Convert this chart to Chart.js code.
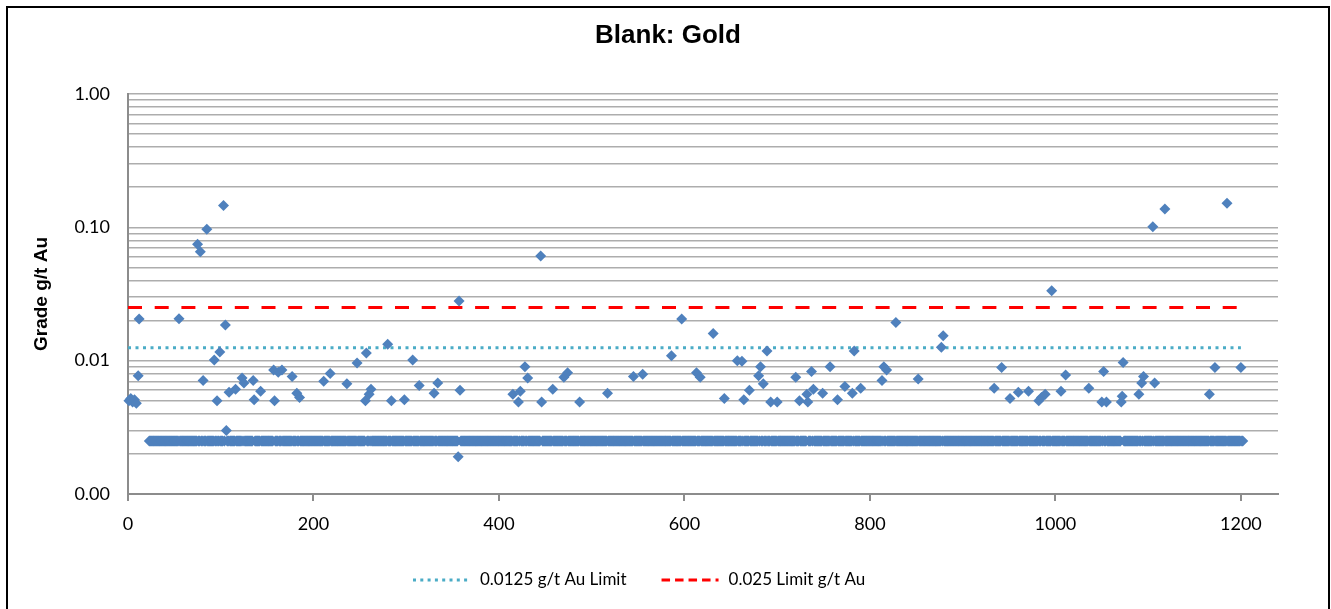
<!DOCTYPE html>
<html>
<head>
<meta charset="utf-8">
<title>Blank: Gold</title>
<script src="https://cdn.jsdelivr.net/npm/chart.js@4.4.1/dist/chart.umd.min.js"></script>
<style>
    html, body { margin: 0; padding: 0; background: #fff; }
    #wrap { position: relative; width: 1331px; height: 609px; overflow: hidden; }
    #blank-chart { position: absolute; left: 0; top: 0; }
    #frame { position: absolute; left: 6px; top: 6px; width: 1320px; height: 640px; border: 2px solid #000; pointer-events: none; }
</style>
</head>
<body>
<div id="wrap">
    <canvas id="blank-chart" width="1331" height="609"></canvas>
    <div id="frame"></div>
</div>
<script>
var chartTitle = 'Blank: Gold';
var yTitle = 'Grade g/t Au';

// assays above the reporting floor (sample number, grade g/t Au)
var sampleNo = [1, 3, 5, 7, 9, 11, 12, 55, 75, 78, 81, 85, 93, 96, 99, 103, 105, 106, 109, 116,
    123, 125, 135, 136, 143, 157, 158, 162, 166, 177, 182, 185, 211, 218, 236, 247, 256, 257, 260, 262,
    280, 284, 298, 307, 314, 330, 334, 356, 357, 358, 415, 421, 423, 428, 431, 445, 446, 458, 470, 474,
    487, 517, 545, 555, 586, 597, 613, 617, 631, 643, 657, 662, 664, 670, 680, 682, 685, 689, 693, 700,
    720, 724, 732, 733, 737, 739, 749, 757, 765, 773, 781, 783, 790, 813, 815, 818, 828, 852, 877, 879,
    934, 942, 951, 960, 971, 982, 985, 989, 996, 1006, 1011, 1036, 1050, 1052, 1055, 1071, 1072, 1073, 1090, 1093,
    1095, 1105, 1107, 1118, 1166, 1172, 1185, 1200];
var grade = [0.0050, 0.0052, 0.0049, 0.0051, 0.0048, 0.0077, 0.0205, 0.0206, 0.0747, 0.0657, 0.0071, 0.0968, 0.0101, 0.0050, 0.0116, 0.1456, 0.0185, 0.0030, 0.0058, 0.0061,
    0.0074, 0.0068, 0.0071, 0.0051, 0.0059, 0.0085, 0.0050, 0.0082, 0.0085, 0.0076, 0.0057, 0.0053, 0.0070, 0.0080, 0.0067, 0.0096, 0.0050, 0.0114, 0.0056, 0.0061,
    0.0133, 0.0050, 0.0051, 0.0101, 0.0065, 0.0057, 0.0068, 0.0019, 0.0280, 0.0060, 0.0056, 0.0049, 0.0059, 0.0090, 0.0074, 0.0610, 0.0049, 0.0061, 0.0075, 0.0081,
    0.0049, 0.0057, 0.0076, 0.0079, 0.0109, 0.0205, 0.0081, 0.0075, 0.0160, 0.0052, 0.0100, 0.0099, 0.0051, 0.0060, 0.0077, 0.0090, 0.0067, 0.0118, 0.0049, 0.0049,
    0.0075, 0.0050, 0.0056, 0.0049, 0.0083, 0.0061, 0.0057, 0.0090, 0.0051, 0.0064, 0.0057, 0.0118, 0.0062, 0.0071, 0.0090, 0.0085, 0.0193, 0.0073, 0.0126, 0.0154,
    0.0062, 0.0089, 0.0052, 0.0058, 0.0059, 0.0050, 0.0053, 0.0056, 0.0335, 0.0059, 0.0078, 0.0062, 0.0049, 0.0083, 0.0049, 0.0049, 0.0054, 0.0097, 0.0056, 0.0068,
    0.0076, 0.1012, 0.0068, 0.1374, 0.0056, 0.0089, 0.1515, 0.0089];

// every other sample reported at half the detection limit
var floorGrade = 0.0025;
var floorFirst = 23;
var floorLast = 1202;

var limitLow = 0.0125;
var limitHigh = 0.025;
var limitFrom = 0;
var limitTo = 1200;

var xTicks = [0, 200, 400, 600, 800, 1000, 1200];
var yTicks = [0.001, 0.01, 0.1, 1];

function samplePoints() {
    var pts = [];
    var listed = new Set(sampleNo);
    for (let n = floorFirst; n <= floorLast; n++) {
        if (!listed.has(n)) pts.push({ x: n, y: floorGrade });
    }
    for (let i = 0; i < sampleNo.length; i++) {
        pts.push({ x: sampleNo[i], y: grade[i] });
    }
    return pts;
}

// log gridlines at 1..9 of each decade
function logGrid() {
    var vals = [];
    for (let d = 0; d < yTicks.length - 1; d++) {
        for (let s = 1; s <= 9; s++) vals.push(Number((s * yTicks[d]).toPrecision(3)));
    }
    vals.push(yTicks[yTicks.length - 1]);
    return vals;
}

// title and legend drawn straight onto the canvas
var captions = {
    id: 'captions',
    afterDraw: function (chart) {
        var ctx = chart.ctx;
        ctx.save();
        ctx.fillStyle = '#000';
        ctx.textAlign = 'center';
        ctx.textBaseline = 'alphabetic';
        ctx.font = 'bold 26px "Liberation Sans", Arial, sans-serif';
        ctx.fillText(chartTitle, 668, 43);

        ctx.font = '17px Lato, sans-serif';
        ctx.textAlign = 'left';
        var x = 413;
        chart.data.datasets.forEach(function (ds) {
            if (!ds.legendDash) return;
            ctx.beginPath();
            ctx.setLineDash(ds.legendDash);
            ctx.strokeStyle = ds.borderColor;
            ctx.lineWidth = ds.borderWidth;
            ctx.moveTo(x, 580);
            ctx.lineTo(x + 57, 580);
            ctx.stroke();
            ctx.setLineDash([]);
            ctx.fillText(ds.label, x + 67, 585);
            x += 67 + ctx.measureText(ds.label).width + 35;
        });
        ctx.restore();
    }
};

var ctx = document.getElementById('blank-chart');
new Chart(ctx, {
    type: 'scatter',
    data: {
        datasets: [{
            label: 'Blank',
            data: samplePoints(),
            pointStyle: 'rectRot',
            pointRadius: 5.5,
            pointHoverRadius: 5.5,
            pointBackgroundColor: '#4f81bd',
            pointBorderWidth: 0,
            clip: false,
            order: 0
        }, {
            label: '0.0125 g/t Au Limit',
            data: [{ x: limitFrom, y: limitLow }, { x: limitTo, y: limitLow }],
            showLine: true,
            borderColor: '#4bacc6',
            borderWidth: 3,
            borderDash: [3, 4.5],
            legendDash: [3, 4.3],
            pointRadius: 0,
            order: 1
        }, {
            label: '0.025 Limit g/t Au',
            data: [{ x: limitFrom, y: limitHigh }, { x: limitTo, y: limitHigh }],
            showLine: true,
            borderColor: '#ff0000',
            borderWidth: 3,
            borderDash: [14, 12.7],
            legendDash: [8.5, 5],
            pointRadius: 0,
            order: 2
        }]
    },
    options: {
        responsive: false,
        animation: false,
        events: [],
        layout: { padding: { left: 30, right: 53, top: 94, bottom: 74 } },
        scales: {
            x: {
                type: 'linear',
                min: 0,
                max: 1240,
                afterBuildTicks: function (axis) { axis.ticks = xTicks.map(v => ({ value: v })); },
                afterFit: function (axis) { axis.height = 41; },
                ticks: {
                    color: '#000',
                    font: { family: 'Lato', size: 18 },
                    padding: 12,
                    maxRotation: 0,
                    callback: function (v) { return String(v); }
                },
                grid: { drawOnChartArea: false, drawTicks: true, tickLength: 7, color: '#8c8c8c', lineWidth: 2 },
                border: { color: '#8c8c8c', width: 2 }
            },
            y: {
                type: 'logarithmic',
                min: 0.001,
                max: 1,
                afterBuildTicks: function (axis) { axis.ticks = logGrid().map(v => ({ value: v })); },
                afterFit: function (axis) { axis.width = 98; },
                ticks: {
                    autoSkip: false,
                    color: '#000',
                    font: { family: 'Lato', size: 18 },
                    padding: 18,
                    callback: function (v) { return yTicks.includes(v) ? v.toFixed(2) : ''; }
                },
                grid: { color: '#adadad', lineWidth: 1.5, drawTicks: false },
                border: { color: '#8c8c8c', width: 2 },
                title: {
                    display: true,
                    text: yTitle,
                    color: '#000',
                    font: { family: 'Liberation Sans', size: 19, weight: 'bold' },
                    padding: 0
                }
            }
        },
        plugins: {
            legend: { display: false },
            tooltip: { enabled: false }
        }
    },
    plugins: [captions]
});
</script>
</body>
</html>
